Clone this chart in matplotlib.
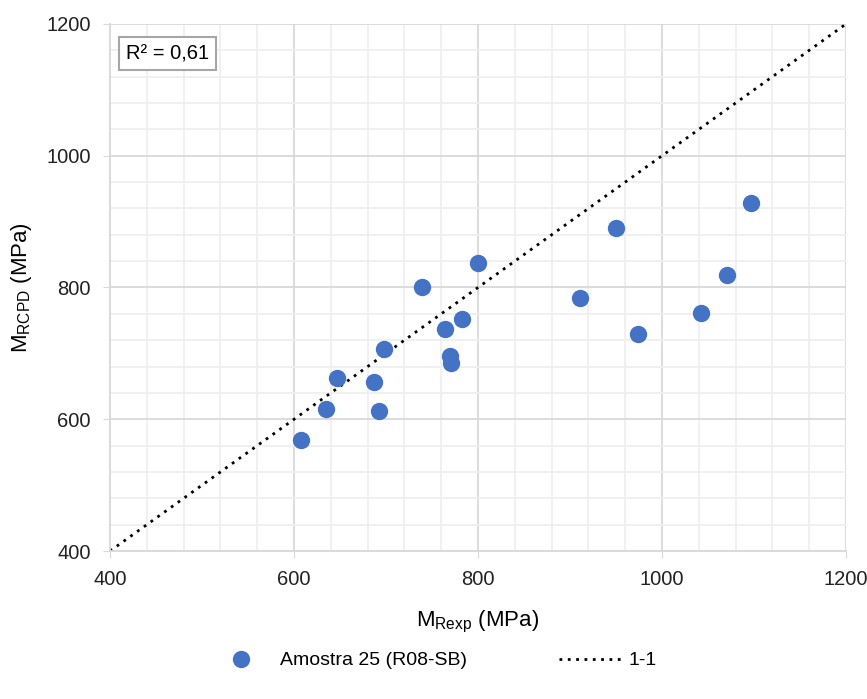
import numpy as np
import matplotlib.pyplot as plt
from matplotlib.ticker import MultipleLocator

plt.rcParams['font.family'] = ['Liberation Sans', 'DejaVu Sans']

m_exp = [608, 635, 647, 687, 692, 698, 739, 764, 770, 771, 783, 800,
         911, 950, 974, 1042, 1071, 1097]
m_rcpd = [568, 615, 662, 656, 612, 706, 800, 737, 696, 685, 752, 837,
          784, 890, 729, 761, 819, 929]
line_1_1 = [400, 1200]
r2_text = "R² = 0,61"


def main():
    fig = plt.figure(figsize=(8.67, 6.99), dpi=100)
    ax = fig.add_axes([0.1269, 0.2117, 0.8489, 0.754])

    ax.plot(m_exp, m_rcpd, 'o', color='#4472C4', markersize=12.5,
            markeredgewidth=0, label='Amostra 25 (R08-SB)', zorder=3)
    ax.plot(line_1_1, line_1_1, color='black', linestyle=(0, (1, 2)),
            linewidth=2, label='1-1', zorder=2)

    ax.set_xlim(400, 1200)
    ax.set_ylim(400, 1200)
    ax.xaxis.set_major_locator(MultipleLocator(200))
    ax.yaxis.set_major_locator(MultipleLocator(200))
    ax.xaxis.set_minor_locator(MultipleLocator(40))
    ax.yaxis.set_minor_locator(MultipleLocator(40))
    ax.grid(True, which='major', color='#d9d9d9', linewidth=1.3)
    ax.grid(True, which='minor', color='#efefef', linewidth=1.3)
    ax.set_axisbelow(True)
    for s in ['top', 'right']:
        ax.spines[s].set_visible(False)
    for s in ['left', 'bottom']:
        ax.spines[s].set_color('#d9d9d9')
        ax.spines[s].set_linewidth(1.3)
    ax.tick_params(which='major', length=5, color='#d9d9d9', labelsize=14.5,
                   labelcolor='#222222', pad=9)
    ax.tick_params(which='minor', length=0)

    ax.set_xlabel(r'M$_{\mathregular{Rexp}}$ (MPa)', fontsize=16, labelpad=14)
    ax.set_ylabel(r'M$_{\mathregular{RCPD}}$ (MPa)', fontsize=16, labelpad=9)

    ax.text(0.022, 0.962, r2_text, transform=ax.transAxes, fontsize=14.5,
            va='top', ha='left',
            bbox=dict(boxstyle='square,pad=0.35', facecolor='white',
                      edgecolor='#a6a6a6', linewidth=1.5))

    fig.legend(loc='center', bbox_to_anchor=(0.5, 0.055), ncol=2,
               frameon=False, fontsize=14, columnspacing=4.7,
               handlelength=3.2, handletextpad=0.4)

    plt.savefig("out.png")


if __name__ == "__main__":
    main()
